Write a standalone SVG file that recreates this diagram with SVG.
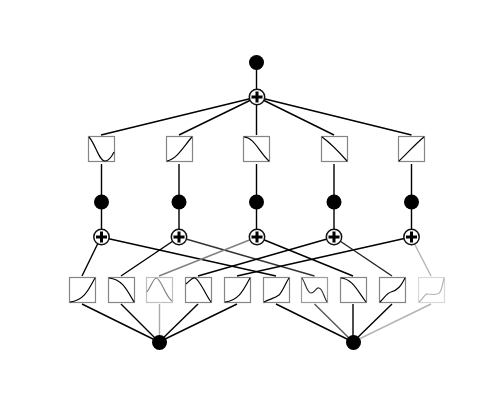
<svg xmlns="http://www.w3.org/2000/svg" width="500" height="400" viewBox="0 0 500 400">
<style>
.c{fill:none;stroke:#000;stroke-width:1.4}
.box{fill:#fff;stroke:#858585;stroke-width:1.2}
.curve{fill:none;stroke:#000;stroke-width:1.15}
.dot{fill:#000}
.ring{fill:#fff;stroke:#111;stroke-width:1.5}
.plus{fill:none;stroke:#000;stroke-width:3}
</style>
<defs>
<g id="sum"><circle class="ring" r="7.7"/><path class="plus" d="M-5.500 0H5.500M0-5.500V5.500"/></g>
</defs>
<g id="connectors">
<path class="c" d="M256.500 62V97"/>
<path class="c" d="M257 97L101 135M257 97L179 135M256.500 97V135M257 97L334 135M257 97L411.500 135"/>
<path class="c" d="M101.500 164V237M179 164V237M256.500 164V237M334 164V237M411.500 164V237"/>
<path class="c" d="M101 237L82 276M101 237L276 276M179 237L121 276"/>
<path class="c" style="stroke:#333" d="M179 237L314.500 276"/>
<path class="c" style="stroke:#808080" d="M257 237L159 276"/>
<path class="c" d="M257 237L353 276M334 237L198 276M411 237L237 276"/>
<path class="c" style="stroke:#222" d="M334 237L392 276"/>
<path class="c" style="stroke:#b4b4b4" d="M411 237L431 276"/>
<path class="c" d="M82 304L159 342M121 304L159 342M198 304L159 342M237 304L159 342"/>
<path class="c" style="stroke:#aaa" d="M159.500 304V342"/>
<path class="c" d="M276 304L353 342M353 304V342M392 304L353 342"/>
<path class="c" style="stroke:#555" d="M314.500 304L353 342"/>
<path class="c" style="stroke:#b4b4b4" d="M431 304L353 342"/>
</g>
<g id="out"><circle class="dot" cx="256.500" cy="62.500" r="7.500"/></g>
<g id="sum-top"><use href="#sum" x="257" y="97"/></g>
<g id="t1"><rect class="box" x="88.500" y="136.500" width="26" height="25"/><path class="curve" d="M89 137C96 145 99 161 105 161C109 161 112 156 114 152"/></g>
<g id="t2"><rect class="box" x="166.500" y="136.500" width="26" height="25"/><path class="curve" d="M167 161C177 159 184 146 192 137"/></g>
<g id="t3"><rect class="box" x="243.500" y="136.500" width="26" height="25"/><path class="curve" d="M244 137C254 137 259 152 269 161"/></g>
<g id="t4"><rect class="box" x="321.500" y="136.500" width="26" height="25"/><path class="curve" d="M322 137C332 144 339 152 347 161"/></g>
<g id="t5"><rect class="box" x="398.500" y="136.500" width="26" height="25"/><path class="curve" d="M399 161C407 154 414 145 424 137"/></g>
<g id="d1"><circle class="dot" cx="101.500" cy="202" r="7.500"/></g>
<g id="d2"><circle class="dot" cx="179" cy="202" r="7.500"/></g>
<g id="d3"><circle class="dot" cx="256.500" cy="202" r="7.500"/></g>
<g id="d4"><circle class="dot" cx="334" cy="202" r="7.500"/></g>
<g id="d5"><circle class="dot" cx="411.500" cy="202" r="7.500"/></g>
<g id="s1"><use href="#sum" x="101.500" y="237"/></g>
<g id="s2"><use href="#sum" x="179" y="237"/></g>
<g id="s3"><use href="#sum" x="257" y="237"/></g>
<g id="s4"><use href="#sum" x="334" y="237"/></g>
<g id="s5"><use href="#sum" x="411.500" y="237"/></g>
<g id="b1"><rect class="box" x="69.500" y="277.500" width="26" height="25"/><path class="curve" d="M70 302C84 301 89 289 95 278"/></g>
<g id="b2"><rect class="box" x="108.500" y="277.500" width="26" height="25"/><path class="curve" d="M109 278C122 279 127 290 134 302"/></g>
<g id="b3" opacity=".5"><rect class="box" x="146.500" y="277.500" width="26" height="25"/><path class="curve" d="M147 292C151 286 154 278 156 278C161 278 165 296 172 301"/></g>
<g id="b4"><rect class="box" x="185.500" y="277.500" width="26" height="25"/><path class="curve" d="M186 284C190 281 192 277 195 278C200 280 205 294 211 302"/></g>
<g id="b5"><rect class="box" x="224.500" y="277.500" width="26" height="25"/><path class="curve" d="M225 302C239 301 244 289 250 278"/></g>
<g id="b6"><rect class="box" x="263.500" y="277.500" width="26" height="25"/><path class="curve" d="M264 302C270 299 275 298 279 295C283 291 285 284 289 278"/></g>
<g id="b7" opacity=".8"><rect class="box" x="301.500" y="277.500" width="26" height="25"/><path class="curve" d="M302 278C305 282 307 293 311 293C315 293 316 287 319 288C323 289 324 298 327 302"/></g>
<g id="b8"><rect class="box" x="340.500" y="277.500" width="26" height="25"/><path class="curve" d="M341 278C353 279 358 292 366 302"/></g>
<g id="b9"><rect class="box" x="379.500" y="277.500" width="26" height="25"/><path class="curve" d="M380 302C385 297 387 293 391 292C398 290 401 286 405 278"/></g>
<g id="b10" opacity=".3"><rect class="box" x="418.500" y="277.500" width="26" height="25"/><path class="curve" d="M419 302C423 299 425 293 428 294C434 295 438 295 440 292C442 289 443 282 444 278"/></g>
<g id="i1"><circle class="dot" cx="159.500" cy="342.500" r="7.500"/></g>
<g id="i2"><circle class="dot" cx="353.500" cy="342.500" r="7.500"/></g>
</svg>
